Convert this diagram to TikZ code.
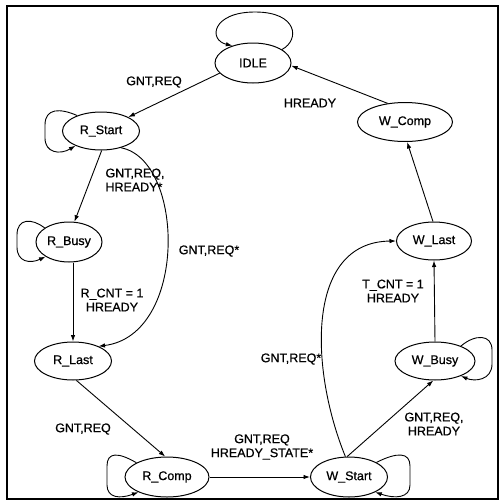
\documentclass[tikz,border=0pt]{standalone}
\usepackage{fontspec}
\setmainfont[FakeBold=0.7]{Liberation Sans}
\usetikzlibrary{shapes.geometric,arrows.meta}
\newcommand\lblfont{\fontsize{12.5}{14}\selectfont}
\begin{document}
\begin{tikzpicture}[x=1pt,y=-1pt,
  st/.style={ellipse,draw,line width=1pt,inner sep=0pt,font=\lblfont},
  arr/.style={-{Latex[length=6.5pt,width=4.5pt]},line width=0.9pt},
  lbl/.style={font=\lblfont,inner sep=0pt,align=center}]
\useasboundingbox (0,0) rectangle (503,504);
\draw[line width=1.3pt] (7,6) rectangle (498,499);
% states
\node[st,minimum width=76pt,minimum height=40pt] (IDLE) at (253,63) {IDLE};
\node[st,minimum width=77pt,minimum height=38pt] (RStart) at (101,131) {R\_Start};
\node[st,minimum width=95pt,minimum height=39pt] (WComp) at (405,122) {W\_Comp};
\node[st,minimum width=66pt,minimum height=40pt] (RBusy) at (69,242) {R\_Busy};
\node[st,minimum width=75pt,minimum height=38pt] (WLast) at (434,241) {W\_Last};
\node[st,minimum width=77pt,minimum height=38pt] (RLast) at (73,361) {R\_Last};
\node[st,minimum width=80pt,minimum height=38pt] (WBusy) at (435,361) {W\_Busy};
\node[st,minimum width=84pt,minimum height=40pt] (RComp) at (167,477) {R\_Comp};
\node[st,minimum width=77pt,minimum height=40pt] (WStart) at (349,477) {W\_Start};
% transitions
\draw[arr] (IDLE.197) -- (RStart.27);
\draw[arr] (WComp.133) -- (IDLE.-4);
\draw[arr] (WLast.93) -- (WComp.276);
\draw[arr] (RStart.-88) -- (RBusy.75);
\draw[arr] (RBusy.south -| RLast.north) -- (RLast.north);
\draw[arr] (RStart.-40) .. controls (185,160) and (188,335) .. (RLast.30);
\draw[arr] (RLast.-80) -- (RComp.95);
\draw[arr] (RComp.east) -- (WStart.west);
\draw[arr] (WStart.95) -- (WBusy.-95);
\draw[arr] (WBusy.north) -- (WLast.south);
\draw[arr] (WStart.100) .. controls (310,370) and (305,242) .. (WLast.180);
% self loops
\coordinate (idletop) at (255,12);
\draw[arr] (IDLE.25) .. controls (300,40) and (298,12) .. (idletop)
  .. controls (212,12) and (208,40) .. (IDLE.140);
\draw[arr] (RStart.147) .. controls (60,108) and (45,108) .. (45,125) -- (45,138)
  .. controls (45,153) and (60,155) .. (RStart.210);
\draw[arr] (RBusy.150) .. controls (32,218) and (17,218) .. (17,235) -- (17,247)
  .. controls (17,262) and (30,264) .. (RBusy.212);
\draw[arr] (WBusy.30) .. controls (475,334) and (492,334) .. (492,350) -- (492,364)
  .. controls (492,380) and (475,382) .. (WBusy.330);
\draw[arr] (RComp.155) .. controls (118,452) and (107,452) .. (107,466) -- (107,485)
  .. controls (107,498) and (120,499) .. (RComp.208);
\draw[arr] (WStart.28) .. controls (397,452) and (410,452) .. (410,466) -- (410,485)
  .. controls (410,498) and (395,499) .. (WStart.330);
% labels
\node[lbl] (l1) at (154,82) {GNT,REQ};
\node[lbl] (l2) at (310,103) {HREADY};
\node[lbl,align=left] (l3) at (135,180) {GNT,REQ,\\HREADY*};
\node[lbl] (l4) at (209,251) {GNT,REQ*};
\node[lbl] (l5) at (112,300) {R\_CNT = 1\\HREADY};
\node[lbl] (l6) at (393,291) {T\_CNT = 1\\HREADY};
\node[lbl] (l7) at (291,359) {GNT,REQ*};
\node[lbl] (l8) at (83,429) {GNT,REQ};
\node[lbl] (l9) at (262,447) {GNT,REQ\\HREADY\_STATE*};
\node[lbl] (l10) at (434,424) {GNT,REQ,\\HREADY};
\end{tikzpicture}
\end{document}
